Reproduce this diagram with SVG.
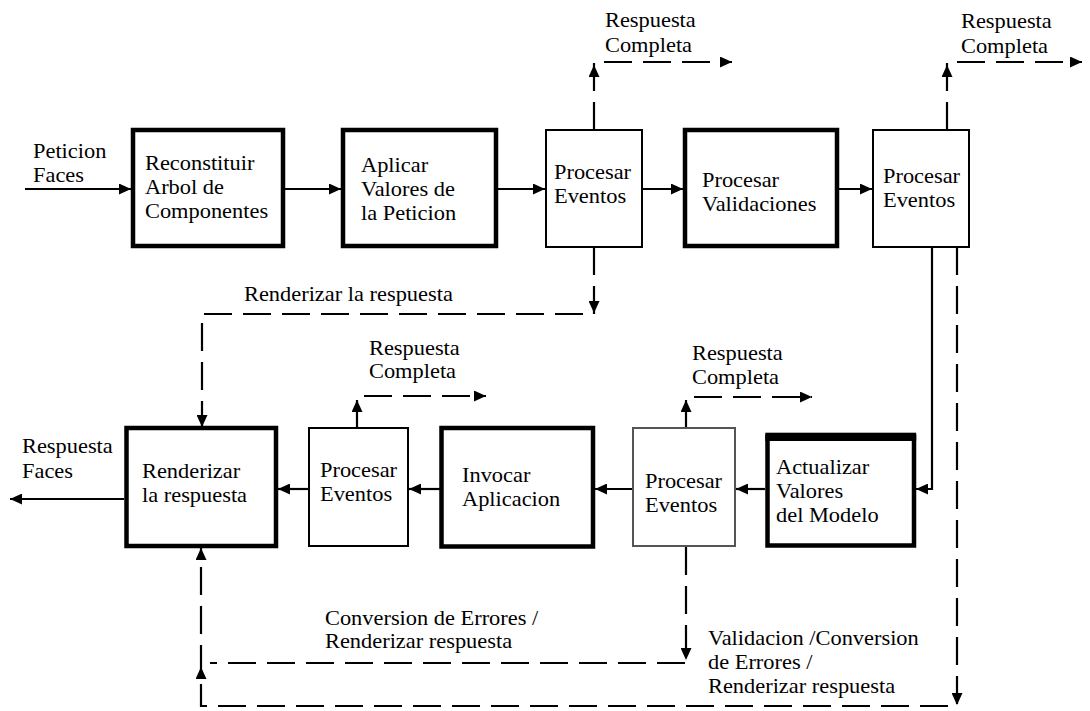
<svg xmlns="http://www.w3.org/2000/svg" width="1090" height="711" viewBox="0 0 1090 711" font-family="'Liberation Serif', 'Times New Roman', 'DejaVu Serif', serif">
  <defs>
    <style>
      text { font-family: 'Liberation Serif', 'Times New Roman', 'DejaVu Serif', serif; font-size: 20px; fill: #000; }
      .thick { fill: #fff; stroke: #000; stroke-width: 4.5; }
      .thin { fill: #fff; stroke: #000; stroke-width: 2; }
      .grey { fill: #fff; stroke: #555; stroke-width: 2; }
      .solid { fill: none; stroke: #000; stroke-width: 2.2; }
      .dash { fill: none; stroke: #000; stroke-width: 2.2; stroke-dasharray: 28 11; }
      .tip { fill: none; stroke: none; }
    </style>
    <marker id="ah" markerUnits="userSpaceOnUse" markerWidth="13" markerHeight="11" refX="12" refY="5.5" orient="auto">
      <path d="M0,0 L12,5.5 L0,11 z" fill="#000"/>
    </marker>
  </defs>
  <rect width="1090" height="711" fill="#fff"/>

  <!-- connectors -->
  <g id="connectors">
    <!-- main flow, top row -->
    <path class="solid" d="M25,189 H131" marker-end="url(#ah)"/>
    <path class="solid" d="M285,189 H341" marker-end="url(#ah)"/>
    <path class="solid" d="M498,189 H545" marker-end="url(#ah)"/>
    <path class="solid" d="M642,189 H683" marker-end="url(#ah)"/>
    <path class="solid" d="M839,189 H872" marker-end="url(#ah)"/>
    <!-- down to Actualizar -->
    <path class="solid" d="M932,247 V489 H916" marker-end="url(#ah)"/>
    <!-- main flow, bottom row -->
    <path class="solid" d="M765,489 H736" marker-end="url(#ah)"/>
    <path class="solid" d="M633,489 H595" marker-end="url(#ah)"/>
    <path class="solid" d="M440,489 H409" marker-end="url(#ah)"/>
    <path class="solid" d="M309,489 H278" marker-end="url(#ah)"/>
    <path class="solid" d="M124,499 H10" marker-end="url(#ah)"/>

    <!-- Respuesta Completa exits -->
    <path class="dash" d="M594,130 V62 H732" marker-end="url(#ah)"/>
    <path class="tip" d="M594,80 V65" marker-end="url(#ah)"/>
    <path class="dash" d="M947,130 V62 H1082" marker-end="url(#ah)"/>
    <path class="tip" d="M947,80 V65" marker-end="url(#ah)"/>
    <path class="dash" d="M357,428 V396 H486" marker-end="url(#ah)"/>
    <path class="tip" d="M357,414 V400" marker-end="url(#ah)"/>
    <path class="dash" d="M686,428 V397 H812" marker-end="url(#ah)"/>
    <path class="tip" d="M686,414 V400" marker-end="url(#ah)"/>

    <!-- Renderizar la respuesta -->
    <path class="dash" d="M594,247 V314 H202 V427" marker-end="url(#ah)"/>
    <path class="tip" d="M594,298 V313" marker-end="url(#ah)"/>

    <!-- Conversion de Errores / Renderizar respuesta -->
    <path class="dash" d="M686,547 V663 H210"/>
    <path class="tip" d="M686,645 V660" marker-end="url(#ah)"/>

    <!-- Validacion / Conversion de Errores / Renderizar respuesta -->
    <path class="dash" d="M957,247 V706 H201 V548" marker-end="url(#ah)"/>
    <path class="tip" d="M957,690 V705" marker-end="url(#ah)"/>
    <path class="tip" d="M201,682 V667" marker-end="url(#ah)"/>
  </g>

  <!-- edge labels -->
  <g id="edge-labels">
    <text transform="translate(33,158) scale(1.12,1)"><tspan x="0" y="0">Peticion</tspan><tspan x="0" y="24">Faces</tspan></text>
    <text transform="translate(605,27) scale(1.12,1)"><tspan x="0" y="0">Respuesta</tspan><tspan x="0" y="25">Completa</tspan></text>
    <text transform="translate(961,28) scale(1.12,1)"><tspan x="0" y="0">Respuesta</tspan><tspan x="0" y="25">Completa</tspan></text>
    <text transform="translate(244,301) scale(1.12,1)">Renderizar la respuesta</text>
    <text transform="translate(369,355) scale(1.12,1)"><tspan x="0" y="0">Respuesta</tspan><tspan x="0" y="23">Completa</tspan></text>
    <text transform="translate(692,360) scale(1.12,1)"><tspan x="0" y="0">Respuesta</tspan><tspan x="0" y="24">Completa</tspan></text>
    <text transform="translate(22,453) scale(1.12,1)"><tspan x="0" y="0">Respuesta</tspan><tspan x="0" y="25">Faces</tspan></text>
    <text transform="translate(325,625) scale(1.12,1)"><tspan x="0" y="0">Conversion de Errores /</tspan><tspan x="0" y="23">Renderizar respuesta</tspan></text>
    <text transform="translate(708,645) scale(1.12,1)"><tspan x="0" y="0">Validacion /Conversion</tspan><tspan x="0" y="24">de Errores /</tspan><tspan x="0" y="48">Renderizar respuesta</tspan></text>
  </g>

  <!-- phase nodes -->
  <g id="reconstituir">
    <rect class="thick" x="133" y="130" width="150" height="116"/>
    <text transform="translate(145,170) scale(1.12,1)"><tspan x="0" y="0">Reconstituir</tspan><tspan x="0" y="24">Arbol de</tspan><tspan x="0" y="48">Componentes</tspan></text>
  </g>
  <g id="aplicar">
    <rect class="thick" x="343" y="130" width="153" height="116"/>
    <text transform="translate(361,172) scale(1.12,1)"><tspan x="0" y="0">Aplicar</tspan><tspan x="0" y="24">Valores de</tspan><tspan x="0" y="48">la Peticion</tspan></text>
  </g>
  <g id="eventos-1">
    <rect class="thin" x="546" y="130" width="96" height="117"/>
    <text transform="translate(554,179) scale(1.12,1)"><tspan x="0" y="0">Procesar</tspan><tspan x="0" y="24">Eventos</tspan></text>
  </g>
  <g id="validaciones">
    <rect class="thick" x="685" y="130" width="152" height="116"/>
    <text transform="translate(702,187) scale(1.12,1)"><tspan x="0" y="0">Procesar</tspan><tspan x="0" y="24">Validaciones</tspan></text>
  </g>
  <g id="eventos-2">
    <rect class="thin" x="873" y="130" width="96" height="117"/>
    <text transform="translate(883,183) scale(1.12,1)"><tspan x="0" y="0">Procesar</tspan><tspan x="0" y="24">Eventos</tspan></text>
  </g>
  <g id="actualizar">
    <rect class="thick" x="767.5" y="437" width="146.5" height="108.5"/>
    <rect x="765.3" y="432.7" width="150.9" height="8.3" fill="#000"/>
    <text transform="translate(776,474) scale(1.12,1)"><tspan x="0" y="0">Actualizar</tspan><tspan x="0" y="24">Valores</tspan><tspan x="0" y="48">del Modelo</tspan></text>
  </g>
  <g id="eventos-3">
    <rect class="grey" x="633" y="428" width="102" height="118"/>
    <text transform="translate(645,488) scale(1.12,1)"><tspan x="0" y="0">Procesar</tspan><tspan x="0" y="24">Eventos</tspan></text>
  </g>
  <g id="invocar">
    <rect class="thick" x="441.5" y="428" width="151.5" height="118.5"/>
    <text transform="translate(462,482) scale(1.12,1)"><tspan x="0" y="0">Invocar</tspan><tspan x="0" y="24">Aplicacion</tspan></text>
  </g>
  <g id="eventos-4">
    <rect class="thin" x="309" y="428" width="99" height="118"/>
    <text transform="translate(320,477) scale(1.12,1)"><tspan x="0" y="0">Procesar</tspan><tspan x="0" y="24">Eventos</tspan></text>
  </g>
  <g id="renderizar">
    <rect class="thick" x="126.5" y="428" width="149.5" height="118"/>
    <text transform="translate(142,478) scale(1.12,1)"><tspan x="0" y="0">Renderizar</tspan><tspan x="0" y="24">la respuesta</tspan></text>
  </g>
</svg>
